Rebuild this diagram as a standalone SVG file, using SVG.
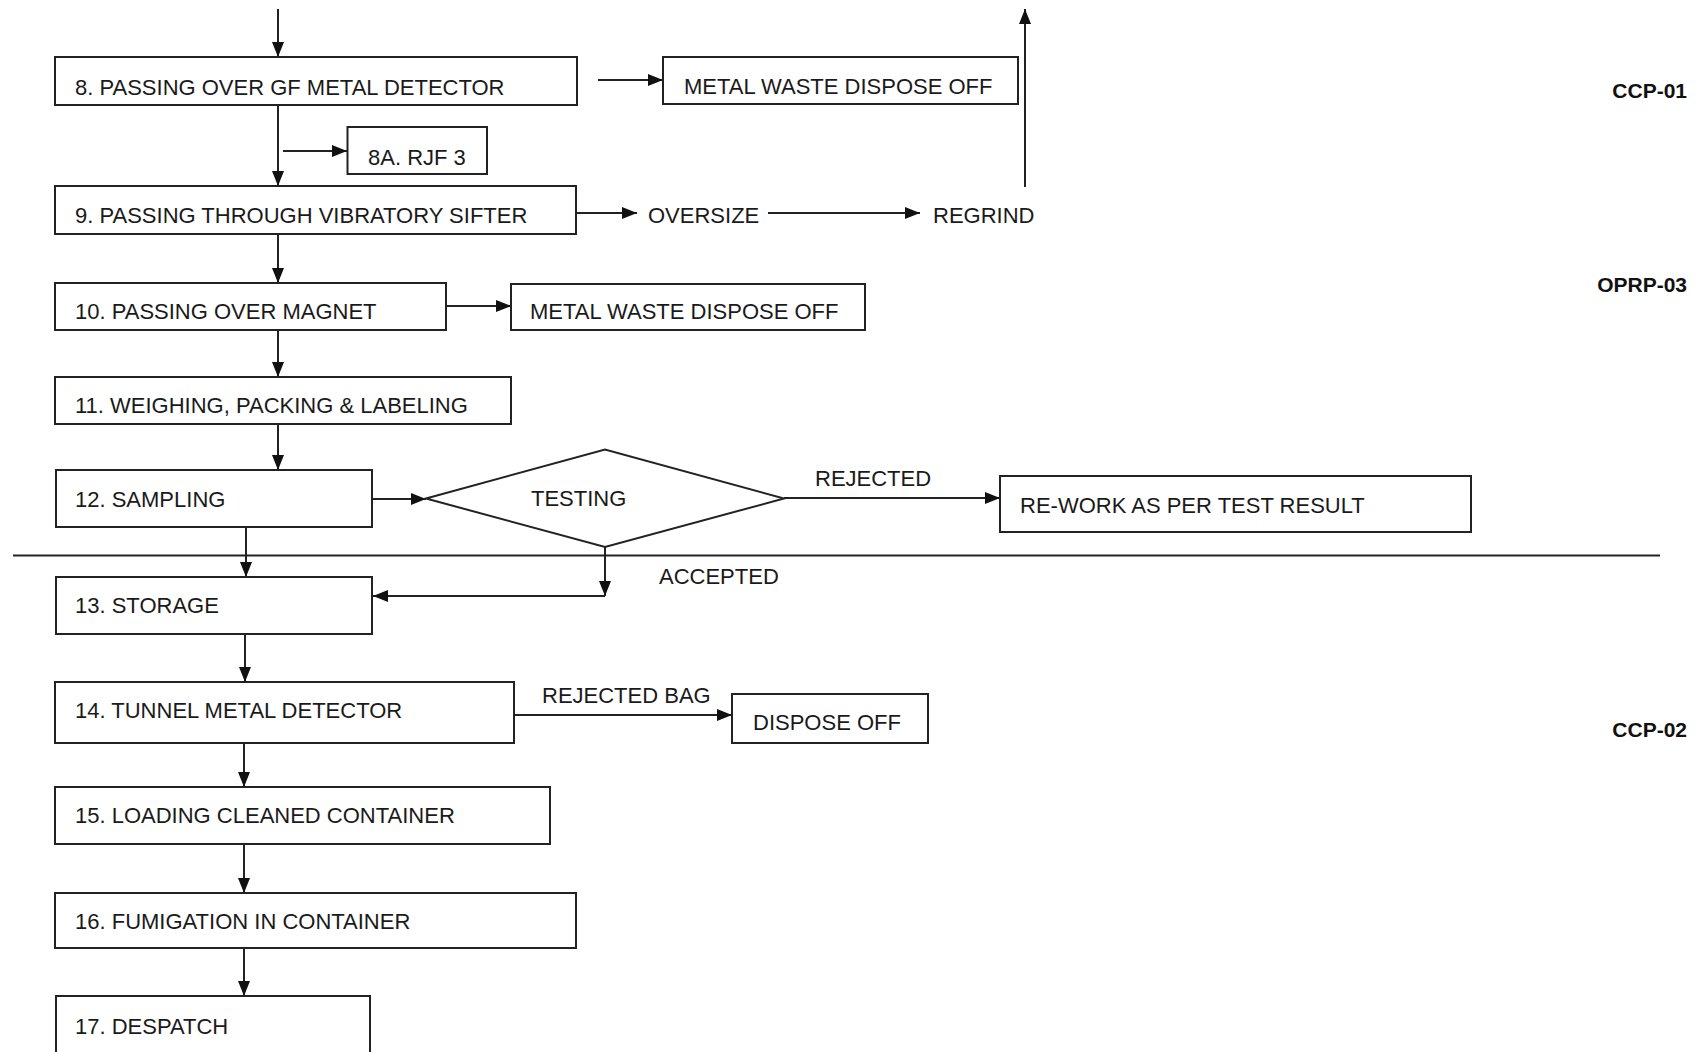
<svg xmlns="http://www.w3.org/2000/svg" width="1696" height="1052" viewBox="0 0 1696 1052">
<style>
  .box{fill:#fff;stroke:#222;stroke-width:2}
  .t{font-family:"Liberation Sans",Arial,sans-serif;font-size:22px;fill:#1a1a1a}
  .b{font-family:"Liberation Sans",Arial,sans-serif;font-size:21px;font-weight:bold;fill:#111;text-anchor:end}
  .c{fill:none;stroke:#222;stroke-width:2}
  .a{marker-end:url(#ah)}
</style>
<defs>
  <marker id="ah" markerUnits="userSpaceOnUse" markerWidth="15" markerHeight="12" refX="15" refY="6" orient="auto">
    <path d="M0,0 L15,6 L0,12 z" fill="#111"/>
  </marker>
</defs>
<rect width="1696" height="1052" fill="#fff"/>

<g id="connectors">
  <path class="c a" d="M278,9 V57"/>
  <path class="c a" d="M598,80 H663"/>
  <path class="c a" d="M278,105 V186"/>
  <path class="c a" d="M283,151 H347"/>
  <path class="c a" d="M576,213 H637"/>
  <path class="c a" d="M768,213 H920"/>
  <path class="c a" d="M1025,187 V9"/>
  <path class="c a" d="M278,234 V283"/>
  <path class="c a" d="M446,306 H511"/>
  <path class="c a" d="M278,330 V377"/>
  <path class="c a" d="M278,424 V470"/>
  <path class="c a" d="M372,499 H426"/>
  <path class="c a" d="M784,498 H1000"/>
  <path class="c a" d="M246,527 V577"/>
  <path class="c a" d="M605,547 V596"/>
  <path class="c a" d="M605,596 H373"/>
  <path class="c a" d="M245,634 V682"/>
  <path class="c a" d="M514,715 H732"/>
  <path class="c a" d="M244,743 V787"/>
  <path class="c a" d="M244,844 V893"/>
  <path class="c a" d="M244,948 V996"/>
  <path class="c" d="M13,555.5 H1660"/>
  <text class="t" x="648" y="223">OVERSIZE</text>
  <text class="t" x="933" y="223">REGRIND</text>
  <text class="t" x="815" y="486">REJECTED</text>
  <text class="t" x="659" y="584">ACCEPTED</text>
  <text class="t" x="542" y="703">REJECTED BAG</text>
</g>

<g id="n8"><rect class="box" x="55" y="57" width="522" height="48"/><text class="t" x="75" y="95">8. PASSING OVER GF METAL DETECTOR</text></g>
<g id="mw1"><rect class="box" x="663" y="57" width="355" height="47"/><text class="t" x="684" y="94">METAL WASTE DISPOSE OFF</text></g>
<g id="n8a"><rect class="box" x="347.5" y="127" width="139.5" height="47"/><text class="t" x="368" y="165">8A. RJF 3</text></g>
<g id="n9"><rect class="box" x="55" y="186" width="521" height="48"/><text class="t" x="75" y="223">9. PASSING THROUGH VIBRATORY SIFTER</text></g>
<g id="n10"><rect class="box" x="55" y="283" width="391" height="47"/><text class="t" x="75" y="319">10. PASSING OVER MAGNET</text></g>
<g id="mw2"><rect class="box" x="511" y="284" width="354" height="46"/><text class="t" x="530" y="319">METAL WASTE DISPOSE OFF</text></g>
<g id="n11"><rect class="box" x="55" y="377" width="456" height="47"/><text class="t" x="75" y="413">11. WEIGHING, PACKING &amp; LABELING</text></g>
<g id="n12"><rect class="box" x="56" y="470" width="316" height="57"/><text class="t" x="75" y="507">12. SAMPLING</text></g>
<g id="testing"><polygon class="box" points="426,498.5 605,449.5 784,498.5 605,547"/><text class="t" x="531" y="506">TESTING</text></g>
<g id="rework"><rect class="box" x="1000" y="476" width="471" height="56"/><text class="t" x="1020" y="513">RE-WORK AS PER TEST RESULT</text></g>
<g id="n13"><rect class="box" x="56" y="577" width="316" height="57"/><text class="t" x="75" y="613">13. STORAGE</text></g>
<g id="n14"><rect class="box" x="55" y="682" width="459" height="61"/><text class="t" x="75" y="718">14. TUNNEL METAL DETECTOR</text></g>
<g id="dispose"><rect class="box" x="732" y="694" width="196" height="49"/><text class="t" x="753" y="730">DISPOSE OFF</text></g>
<g id="n15"><rect class="box" x="55" y="787" width="495" height="57"/><text class="t" x="75" y="823">15. LOADING CLEANED CONTAINER</text></g>
<g id="n16"><rect class="box" x="55" y="893" width="521" height="55"/><text class="t" x="75" y="929">16. FUMIGATION IN CONTAINER</text></g>
<g id="n17"><rect class="box" x="56" y="996" width="314" height="70"/><text class="t" x="75" y="1034">17. DESPATCH</text></g>

<g id="labels">
  <text class="b" x="1687" y="98">CCP-01</text>
  <text class="b" x="1687" y="292">OPRP-03</text>
  <text class="b" x="1687" y="737">CCP-02</text>
</g>
</svg>
